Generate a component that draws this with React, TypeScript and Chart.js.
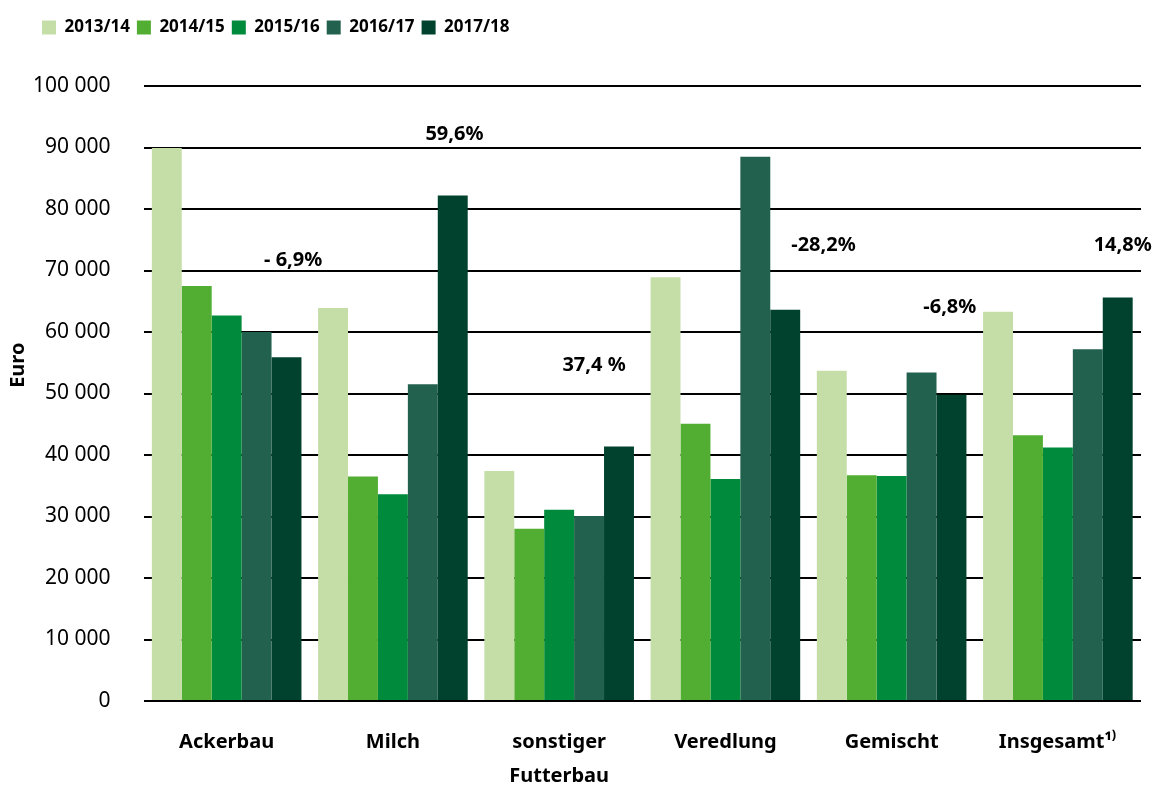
import React, { useEffect, useRef } from 'react';
import { Chart, registerables } from 'chart.js';

Chart.register(...registerables);

// ---- Data ----
const categories: string[][] = [
  ['Ackerbau'],
  ['Milch'],
  ['sonstiger', 'Futterbau'],
  ['Veredlung'],
  ['Gemischt'],
  ['Insgesamt¹⁾'],
];

const seriesLabels = ['2013/14', '2014/15', '2015/16', '2016/17', '2017/18'];
const seriesColors = ['#c5dea8', '#52ae32', '#008a3b', '#23614f', '#00422e'];

const values2013 = [89900, 63900, 37400, 68900, 53700, 63300];
const values2014 = [67500, 36500, 28000, 45100, 36700, 43200];
const values2015 = [62700, 33600, 31100, 36100, 36600, 41200];
const values2016 = [60000, 51500, 30100, 88500, 53400, 57200];
const values2017 = [55900, 82200, 41400, 63600, 49800, 65600];

const yTickMin = 0;
const yTickMax = 100000;
const yTickStep = 10000;

// change annotations: text, anchor in category units, anchor in value units
const annotationTexts = ['- 6,9%', '59,6%', '37,4 %', '-28,2%', '-6,8%', '14,8%'];
const annotationCategory = [0.4, 1.37, 2.21, 3.59, 4.35, 5.39];
const annotationValue = [71600, 92200, 54600, 74100, 64000, 74100];

const yAxisTitle = 'Euro';
const yAxisTitleValue = 54600;

const FONT = "'Noto Sans', 'DejaVu Sans', sans-serif";

function formatThousands(v: number): string {
  return String(v).replace(/\B(?=(\d{3})+(?!\d))/g, ' ');
}

const annotationPlugin = {
  id: 'changeAnnotations',
  afterDatasetsDraw(chart: any) {
    const { ctx, scales, chartArea } = chart;
    const x = scales.x;
    const y = scales.y;
    ctx.save();
    ctx.fillStyle = '#000';
    ctx.font = `bold 20px ${FONT}`;
    ctx.textAlign = 'center';
    ctx.textBaseline = 'middle';
    annotationTexts.forEach((t, i) => {
      ctx.fillText(t, x.getPixelForValue(annotationCategory[i]), y.getPixelForValue(annotationValue[i]));
    });
    ctx.translate(chartArea.left - 125.5, y.getPixelForValue(yAxisTitleValue));
    ctx.rotate(-Math.PI / 2);
    ctx.fillText(yAxisTitle, 0, 0);
    ctx.restore();
  },
};

const LEGEND_SHIFT_X = 35;

const legendLayoutPlugin = {
  id: 'legendLayout',
  beforeInit(chart: any) {
    const legend = chart.legend;
    if (!legend) return;
    const originalFit = legend.fit;
    legend.fit = function fit() {
      originalFit.call(legend);
      legend.height = 74;
    };
  },
  afterLayout(chart: any) {
    const legend = chart.legend;
    if (!legend) return;
    legend.left += LEGEND_SHIFT_X;
    legend.right += LEGEND_SHIFT_X;
  },
};

export default function App() {
  const canvasRef = useRef<HTMLCanvasElement | null>(null);

  useEffect(() => {
    if (!canvasRef.current) return;
    const seriesValues = [values2013, values2014, values2015, values2016, values2017];
    const chart = new Chart(canvasRef.current, {
      type: 'bar',
      data: {
        labels: categories,
        datasets: seriesLabels.map((label, i) => ({
          label,
          data: seriesValues[i],
          backgroundColor: seriesColors[i],
          borderWidth: 0,
          categoryPercentage: 0.9,
          barPercentage: 1.0,
        })),
      },
      options: {
        responsive: false,
        animation: false,
        layout: { padding: { top: 12, left: 0, right: 15, bottom: 0 } },
        plugins: {
          legend: {
            display: true,
            position: 'top',
            align: 'start',
            labels: {
              boxWidth: 14,
              boxHeight: 14,
              padding: 7,
              color: '#000',
              font: { family: FONT, size: 17, weight: 'bold' },
            },
          },
          tooltip: { enabled: false },
        },
        scales: {
          x: {
            grid: { display: false, drawTicks: false },
            border: { display: false },
            ticks: {
              color: '#000',
              padding: 24,
              maxRotation: 0,
              autoSkip: false,
              font: { family: FONT, size: 20, weight: 'bold', lineHeight: 1.7 },
            },
          },
          y: {
            min: yTickMin,
            max: yTickMax,
            grid: { color: '#000', lineWidth: 2, drawTicks: false },
            border: { display: false },
            ticks: {
              stepSize: yTickStep,
              color: '#000',
              padding: 33,
              font: { family: FONT, size: 21 },
              callback: (v: any) => formatThousands(Number(v)),
            },
          },
        },
      },
      plugins: [legendLayoutPlugin, annotationPlugin],
    } as any);
    return () => chart.destroy();
  }, []);

  return (
    <div style={{ position: 'fixed', left: 0, top: 0, width: 1156, height: 817, background: '#fff' }}>
      <canvas ref={canvasRef} width={1156} height={817} style={{ display: 'block' }} />
    </div>
  );
}
